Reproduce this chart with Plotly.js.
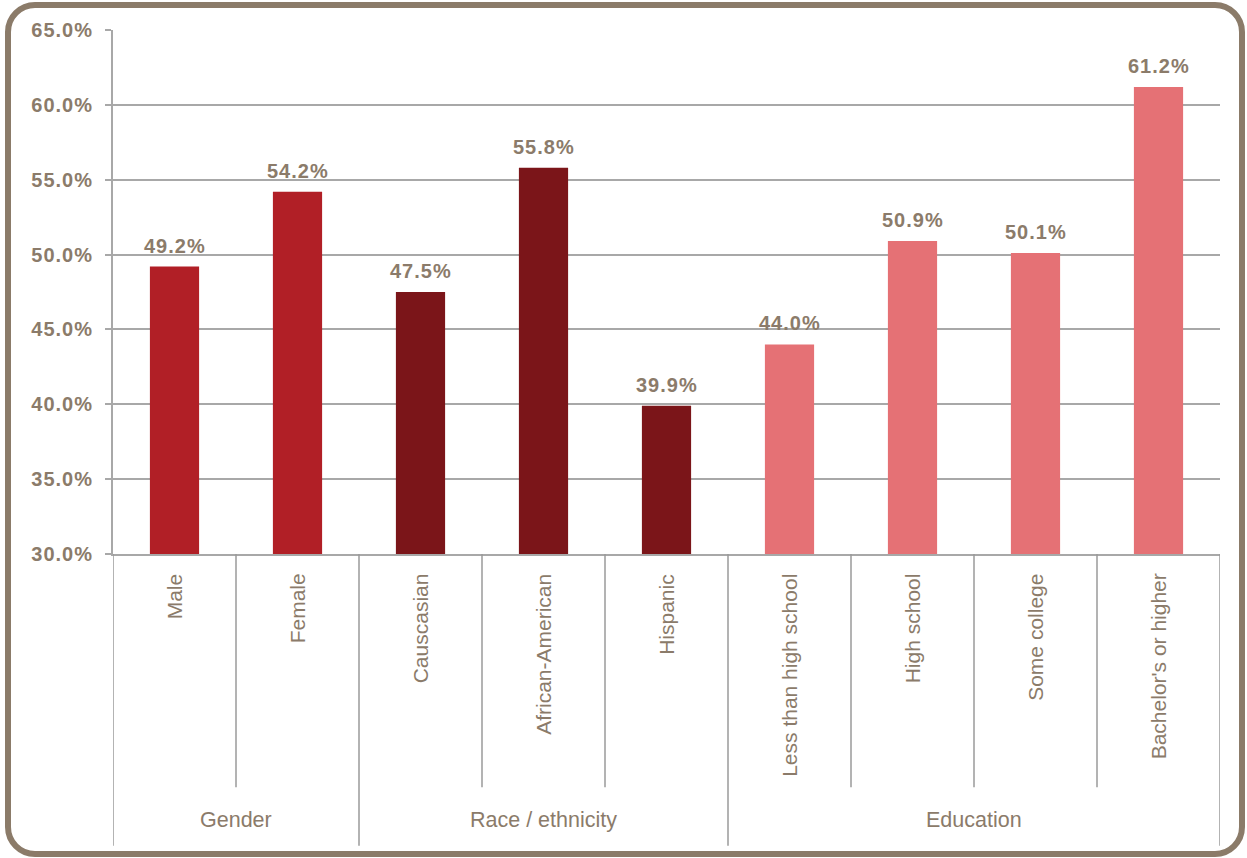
<!DOCTYPE html>
<html>
<head>
<meta charset="utf-8">
<script src="https://cdn.plot.ly/plotly-3.0.1.min.js"></script>
<style>
  html, body { margin: 0; padding: 0; background: #ffffff; overflow: hidden; }
  #wrap { position: relative; width: 1247px; height: 858px; }
  #chart { position: absolute; left: 0; top: 0; width: 1247px; height: 858px; }
  #frame { position: absolute; left: 5px; top: 2px; width: 1240px; height: 855px;
           border: 6px solid #8B7B69; border-radius: 30px; box-sizing: border-box;
           pointer-events: none; }
</style>
</head>
<body>
<div id="wrap">
  <div id="chart"></div>
  <div id="frame"></div>
</div>
<script>
// ---- data ----
const categories = ["Male", "Female", "Causcasian", "African-American", "Hispanic",
                    "Less than high school", "High school", "Some college", "Bachelor's or higher"];
const values = [49.2, 54.2, 47.5, 55.8, 39.9, 44.0, 50.9, 50.1, 61.2];
const groupOf = [0, 0, 1, 1, 1, 2, 2, 2, 2];
const groups = ["Gender", "Race / ethnicity", "Education"];
const groupColors = ["#B11F26", "#7B1519", "#E57175"];
const yTicks = [30, 35, 40, 45, 50, 55, 60, 65];

// ---- styling ----
const textColor = "#8B7B6A";
const gridColor = "#A8A8A8";
const font = "'Liberation Sans', Arial, Helvetica, sans-serif";
const spaced = s => '<span style="letter-spacing:1px">' + s + '</span>';

const idx = categories.map((_, i) => i);

const trace = {
  type: "bar",
  x: idx,
  y: values,
  width: 0.4,
  marker: { color: idx.map(i => groupColors[groupOf[i]]) },
  hoverinfo: "skip"
};

const annotations = [];
const shapes = [];

// value labels
idx.forEach(i => {
  annotations.push({
    x: i, y: values[i], xref: "x", yref: "y",
    text: spaced(values[i].toFixed(1) + "%"),
    showarrow: false, yanchor: "bottom", yshift: 8,
    font: { family: font, size: 20, color: textColor, weight: "bold" }
  });
});

// category labels (rotated)
idx.forEach(i => {
  annotations.push({
    x: i, y: -0.034, xref: "x", yref: "paper",
    text: categories[i], textangle: -90,
    showarrow: false, xanchor: "center", yanchor: "top",
    font: { family: font, size: 21, color: textColor }
  });
});

// group labels + group boundaries
const groupStart = [], groupEnd = [];
groups.forEach((g, gi) => {
  const members = idx.filter(i => groupOf[i] === gi);
  const a = Math.min(...members) - 0.5, b = Math.max(...members) + 0.5;
  groupStart.push(a); groupEnd.push(b);
  annotations.push({
    x: (a + b) / 2, y: -0.508, xref: "x", yref: "paper",
    text: g, showarrow: false, xanchor: "center", yanchor: "middle",
    font: { family: font, size: 21.5, color: textColor }
  });
});

// separator lines
for (let k = 0; k <= categories.length; k++) {
  const xpos = k - 0.5;
  const isGroupEdge = groupStart.includes(xpos) || groupEnd.includes(xpos);
  shapes.push({
    type: "line", xref: "x", yref: "paper",
    x0: xpos, x1: xpos, y0: 0, y1: isGroupEdge ? -0.557 : -0.445,
    line: { color: "#9A9A9A", width: 1.5 }
  });
}

const layout = {
  width: 1247, height: 858,
  margin: { l: 113, r: 27, t: 30, b: 304 },
  paper_bgcolor: "#ffffff", plot_bgcolor: "#ffffff",
  showlegend: false,
  bargap: 0.6,
  xaxis: {
    range: [-0.5, categories.length - 0.5],
    showticklabels: false, showgrid: false, zeroline: false,
    showline: true, linecolor: gridColor, linewidth: 2,
    fixedrange: true
  },
  yaxis: {
    range: [30, 65],
    tickvals: yTicks,
    ticktext: yTicks.map(v => spaced(v.toFixed(1) + "%")),
    showgrid: true, gridcolor: gridColor, gridwidth: 2,
    zeroline: false,
    showline: true, linecolor: gridColor, linewidth: 2,
    ticks: "outside", ticklen: 6, tickcolor: gridColor, tickwidth: 2,
    ticklabelstandoff: 8,
    tickfont: { family: font, size: 20, color: textColor, weight: "bold" },
    fixedrange: true
  },
  annotations: annotations,
  shapes: shapes
};

Plotly.newPlot("chart", [trace], layout, { displayModeBar: false, staticPlot: true });
</script>
</body>
</html>
